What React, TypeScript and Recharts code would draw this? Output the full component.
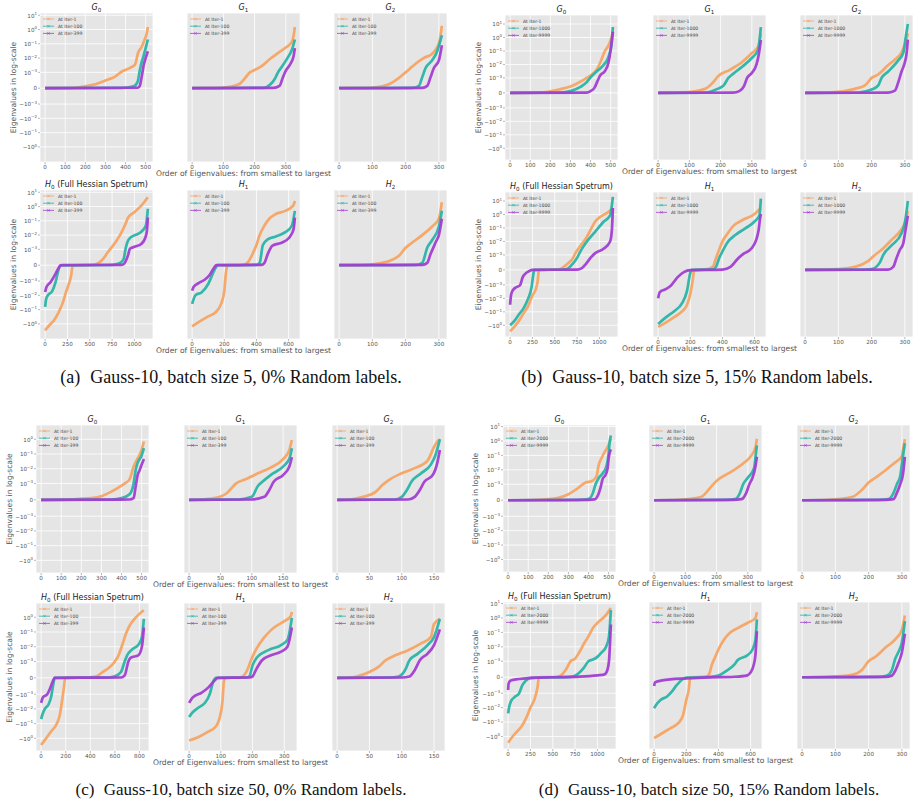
import React from 'react';
import { LineChart, Line, XAxis, YAxis, CartesianGrid, Legend } from 'recharts';

type Pt = [number, number];

// ---------- symlog helpers (matplotlib symlog, linthresh=1e-3, linscale=1) ----------
const LINTHRESH = 1e-3;
const LINSCALE = 1 / (1 - 1 / 10);
const symlog = (v: number) => {
  const a = Math.abs(v);
  const s = v < 0 ? -1 : 1;
  if (a <= LINTHRESH) return (s * a * LINSCALE) / LINTHRESH;
  return s * (LINSCALE + Math.log10(a / LINTHRESH));
};

const Y_TICK_VALUES = [10, 1, 0.1, 0.01, 0.001, 0, -0.001, -0.01, -0.1, -1];

const T_G0 = [0, 100, 200, 300, 400, 500];
const T_300 = [0, 100, 200, 300];
const T_150 = [0, 50, 100, 150];
const T_H0 = [0, 250, 500, 750, 1000];
const T_H0c = [0, 200, 400, 600, 800];
const T_H1 = [0, 200, 400, 600];

const NAMES_A = ['At Iter-1', 'At Iter-100', 'At Iter-399'];
const NAMES_B = ['At Iter-1', 'At Iter-1000', 'At Iter-9999'];
const NAMES_C = ['At Iter-1', 'At Iter-100', 'At Iter-399'];
const NAMES_D = ['At Iter-1', 'At Iter-2000', 'At Iter-9999'];

const COLORS = ['#F5A462', '#2AB4A6', '#A23DD3'];

// ---------- (a) ----------
const a_G0_1: Pt[] = [[0,0],[150,3e-5],[200,1.2e-4],[250,2.5e-4],[300,4.8e-4],[350,7.5e-4],[380,1.1e-3],[420,2e-3],[447,3.5e-3],[463,2.5e-2],[480,6e-2],[495,0.2],[505,0.5],[511,1.5]];
const a_G0_2: Pt[] = [[0,0],[380,2e-5],[440,1.2e-4],[460,4e-4],[470,1.2e-3],[480,5e-3],[490,1.5e-2],[500,5e-2],[511,0.2]];
const a_G0_3: Pt[] = [[0,0],[460,3e-5],[470,1.2e-4],[480,7e-4],[490,3e-3],[500,1e-2],[511,3e-2]];
const a_G1_1: Pt[] = [[0,0],[100,3e-5],[150,2.5e-4],[170,6.5e-4],[185,1e-3],[195,1.3e-3],[220,2.5e-3],[250,9e-3],[280,2.7e-2],[300,5.5e-2],[320,0.14],[326,0.5],[329,1.5]];
const a_G1_2: Pt[] = [[0,0],[230,2e-5],[250,2.3e-4],[265,6e-4],[275,1e-3],[290,3e-3],[305,1e-2],[320,4e-2],[329,0.2]];
const a_G1_3: Pt[] = [[0,0],[260,2e-5],[280,1.5e-4],[290,6.5e-4],[300,1.3e-3],[315,4e-3],[325,1.4e-2],[329,5e-2]];
const a_G2_1: Pt[] = [[0,0],[100,3e-5],[150,2.5e-4],[180,6.5e-4],[200,1e-3],[215,2e-3],[230,4e-3],[254,1e-2],[280,2e-2],[295,6e-2],[302,0.15],[309,1.8]];
const a_G2_2: Pt[] = [[0,0],[220,2e-5],[240,1.5e-4],[250,7e-4],[260,2e-3],[280,7e-3],[295,3e-2],[303,0.12],[309,0.4]];
const a_G2_3: Pt[] = [[0,0],[250,2e-5],[265,1.5e-4],[275,7e-4],[285,2e-3],[300,7e-3],[309,0.08]];
const a_H0_1: Pt[] = [[0,-2.8],[50,-1.2],[100,-0.55],[150,-0.16],[200,-0.03],[230,-7e-3],[260,-2e-3],[290,-7e-4],[310,-1e-5],[550,3e-5],[600,1.4e-4],[650,4e-4],[700,8e-4],[750,1.5e-3],[800,4e-3],[850,1.3e-2],[900,6e-2],[930,0.17],[1000,0.4],[1080,1.2],[1151,4.5]];
const a_H0_2: Pt[] = [[0,-0.065],[10,-0.02],[30,-1e-2],[80,-5e-3],[120,-1e-3],[150,-2.7e-4],[170,-1e-5],[750,2e-5],[800,7e-5],[850,1.8e-4],[880,4e-4],[900,1e-3],[920,3e-3],[960,7e-3],[1050,1.3e-2],[1100,2.4e-2],[1130,5e-2],[1151,0.7]];
const a_H0_3: Pt[] = [[0,-5.9e-3],[15,-2.6e-3],[60,-1.2e-3],[80,-9e-4],[120,-5e-4],[160,-1e-4],[180,0],[850,2e-5],[880,7e-5],[900,2.3e-4],[930,6.5e-4],[950,1.1e-3],[1000,1.5e-3],[1080,2.5e-3],[1120,6e-3],[1140,2e-2],[1151,0.17]];
const a_H1_1: Pt[] = [[0,-1.5],[50,-0.65],[100,-0.3],[150,-0.14],[180,-0.04],[200,-5e-3],[210,-5e-4],[220,0],[320,3e-5],[350,2.3e-4],[380,8e-4],[400,2e-3],[420,1e-2],[450,4.7e-2],[480,0.14],[520,0.3],[580,0.5],[630,1.2],[639,2.5]];
const a_H1_2: Pt[] = [[0,-0.04],[20,-0.01],[60,-6e-3],[100,-1.6e-3],[130,-5e-4],[150,-1e-4],[160,0],[400,2e-5],[420,1.5e-4],[440,2e-3],[470,5e-3],[520,8e-3],[580,1.6e-2],[620,4.5e-2],[639,0.5]];
const a_H1_3: Pt[] = [[0,-4.7e-3],[10,-2.5e-3],[40,-1.4e-3],[80,-9e-4],[110,-6e-4],[140,-1e-4],[150,0],[430,2e-5],[450,1.5e-4],[470,7e-4],[500,1.8e-3],[560,3e-3],[600,6e-3],[630,2.3e-2],[639,0.17]];
const a_H2_1: Pt[] = [[0,0],[80,3e-5],[130,1.5e-4],[180,6e-4],[200,1.3e-3],[220,3e-3],[250,1e-2],[280,4e-2],[300,0.14],[309,2]];
const a_H2_2: Pt[] = [[0,0],[230,2e-5],[250,1.5e-4],[265,1.3e-3],[280,4.5e-3],[300,4e-2],[309,0.5]];
const a_H2_3: Pt[] = [[0,0],[250,2e-5],[265,1.5e-4],[275,7e-4],[290,3e-3],[300,1e-2],[309,0.14]];

// ---------- (b) ----------
const b_G0_1: Pt[] = [[0,0],[150,3e-5],[250,2.5e-4],[300,4.2e-4],[350,7.5e-4],[380,1e-3],[400,1.5e-3],[430,4e-3],[450,1.6e-2],[470,9e-2],[490,0.27],[505,1.1],[511,2.6]];
const b_G0_2: Pt[] = [[0,0],[250,2e-5],[300,1.2e-4],[350,4e-4],[380,7e-4],[400,1.1e-3],[430,3e-3],[460,7.5e-3],[490,4e-2],[505,0.35],[511,6]];
const b_G0_3: Pt[] = [[0,0],[380,2e-5],[400,1.2e-4],[420,3.5e-4],[435,8e-4],[450,1.7e-3],[470,3e-3],[490,1.5e-2],[500,0.12],[511,2.6]];
const b_G1_1: Pt[] = [[0,0],[80,3e-5],[150,2.7e-4],[180,8e-4],[190,1.2e-3],[230,4e-3],[270,1.6e-2],[300,7e-2],[320,0.2],[329,2]];
const b_G1_2: Pt[] = [[0,0],[150,2e-5],[190,2.7e-4],[210,5e-4],[225,1e-3],[240,2e-3],[270,7e-3],[300,3e-2],[320,0.12],[329,6]];
const b_G1_3: Pt[] = [[0,0],[240,2e-5],[260,1.2e-4],[275,4.5e-4],[285,1e-3],[300,2.3e-3],[315,1e-2],[322,5e-2],[329,0.65]];
const b_G2_1: Pt[] = [[0,0],[80,3e-5],[150,2.7e-4],[180,5e-4],[200,1e-3],[220,1.8e-3],[250,9e-3],[270,2.3e-2],[290,8e-2],[300,0.3],[309,2]];
const b_G2_2: Pt[] = [[0,0],[160,2e-5],[200,2.2e-4],[220,5e-4],[230,1e-3],[250,3e-3],[280,2e-2],[295,7e-2],[303,1.2],[309,10]];
const b_G2_3: Pt[] = [[0,0],[250,2e-5],[270,1.5e-4],[280,7e-4],[290,3e-3],[298,1e-2],[305,6e-2],[309,0.7]];
const b_H0_1: Pt[] = [[0,-2.8],[50,-1.2],[100,-0.45],[150,-0.13],[200,-0.04],[250,-6e-3],[290,-1.9e-3],[310,-7e-4],[320,-1e-4],[330,0],[550,3e-5],[600,2e-4],[650,4.5e-4],[700,7.5e-4],[730,1.3e-3],[800,6e-3],[850,1.7e-2],[900,7e-2],[950,0.28],[1000,0.6],[1100,1.5],[1151,3]];
const b_H0_2: Pt[] = [[0,-1.0],[50,-0.45],[100,-0.15],[150,-0.055],[200,-0.011],[240,-1.5e-3],[260,-3e-4],[270,0],[600,2e-5],[650,1e-4],[700,4e-4],[750,8e-4],[780,1.5e-3],[850,8e-3],[950,5e-2],[1050,0.3],[1120,0.85],[1151,20]];
const b_H0_3: Pt[] = [[0,-0.03],[10,-6e-3],[30,-2.5e-3],[70,-1.5e-3],[110,-1.1e-3],[140,-5e-4],[180,-2e-4],[220,-5e-5],[250,0],[750,2e-5],[800,1e-4],[850,4e-4],[900,8e-4],[950,1.3e-3],[1050,3e-3],[1120,1e-2],[1140,7e-2],[1151,3]];
const b_H1_1: Pt[] = [[0,-1.3],[50,-0.6],[100,-0.25],[150,-0.09],[180,-0.03],[200,-4.7e-3],[215,-7e-4],[225,0],[300,3e-5],[340,2e-4],[360,8e-4],[380,2.5e-3],[400,1e-2],[430,3.6e-2],[470,0.15],[520,0.36],[600,1.1],[639,3]];
const b_H1_2: Pt[] = [[0,-0.8],[50,-0.25],[100,-0.09],[150,-0.022],[180,-2.7e-3],[200,-2e-4],[210,0],[340,3e-5],[360,2e-4],[380,8e-4],[400,1.8e-3],[430,8e-3],[480,3e-2],[540,9e-2],[600,0.3],[630,0.85],[639,15]];
const b_H1_3: Pt[] = [[0,-0.01],[10,-3.5e-3],[50,-2e-3],[80,-1.1e-3],[120,-5e-4],[160,-1.5e-4],[200,-2e-5],[400,2e-5],[450,2e-4],[500,8e-4],[530,1.2e-3],[580,3e-3],[610,1.3e-2],[625,7e-2],[635,0.6],[639,1.1]];
const b_H2_1: Pt[] = [[0,0],[80,3e-5],[150,2e-4],[190,6e-4],[210,1e-3],[230,2.4e-3],[260,1.3e-2],[290,8e-2],[300,0.24],[309,1.8]];
const b_H2_2: Pt[] = [[0,0],[180,2e-5],[200,5e-5],[225,5e-4],[235,1e-3],[260,5e-3],[290,4e-2],[300,0.24],[309,10]];
const b_H2_3: Pt[] = [[0,0],[250,2e-5],[265,2e-4],[275,8e-4],[285,2.4e-3],[295,7e-3],[300,3.5e-2],[309,0.8]];

// ---------- (c) ----------
const c_G0_1: Pt[] = [[0,0],[150,3e-5],[250,1e-4],[300,2.2e-4],[350,5e-4],[400,8.6e-4],[420,1.1e-3],[440,1.9e-3],[460,1.4e-2],[480,5e-2],[500,0.19],[511,0.7]];
const c_G0_2: Pt[] = [[0,0],[350,2e-5],[400,1e-4],[440,3.4e-4],[460,1e-3],[470,8e-3],[480,2.5e-2],[500,8e-2],[511,0.25]];
const c_G0_3: Pt[] = [[0,0],[440,2e-5],[460,1e-4],[470,8e-4],[480,3.7e-3],[490,8e-3],[500,1.9e-2],[511,4.5e-2]];
const c_G1_1: Pt[] = [[0,0],[20,2e-5],[40,1e-4],[60,4e-4],[75,1e-3],[90,1.9e-3],[110,4.9e-3],[130,1.2e-2],[150,4.5e-2],[160,0.19],[164,0.9]];
const c_G1_2: Pt[] = [[0,0],[80,2e-5],[100,1.8e-4],[110,8.6e-4],[115,1.1e-3],[130,3.7e-3],[150,1.4e-2],[160,4.7e-2],[164,0.25]];
const c_G1_3: Pt[] = [[0,0],[100,2e-5],[120,1.8e-4],[128,6e-4],[135,1.3e-3],[150,3.7e-3],[160,1.4e-2],[164,6e-2]];
const c_G2_1: Pt[] = [[0,0],[20,2e-5],[40,1.8e-4],[60,5e-4],[70,9e-4],[80,1.7e-3],[100,4.9e-3],[120,1.1e-2],[140,3.6e-2],[150,0.3],[155,0.7],[159,1.0]];
const c_G2_2: Pt[] = [[0,0],[90,2e-5],[100,1.8e-4],[108,6e-4],[115,1.3e-3],[130,4.9e-3],[145,1.9e-2],[152,8e-2],[159,1.0]];
const c_G2_3: Pt[] = [[0,0],[110,2e-5],[120,1.8e-4],[128,6e-4],[135,1.3e-3],[148,3.7e-3],[155,2.5e-2],[159,0.19]];
const c_H0_1: Pt[] = [[0,-2.8],[40,-1.0],[80,-0.35],[120,-0.13],[150,-0.03],[170,-3e-3],[185,-6e-4],[195,0],[400,3e-5],[450,9e-5],[500,3.5e-4],[550,6e-4],[600,1e-3],[630,2.6e-3],[660,1.3e-2],[690,7.6e-2],[720,0.27],[760,0.77],[800,1.7],[836,3]];
const c_H0_2: Pt[] = [[0,-0.05],[10,-0.025],[30,-1e-2],[60,-5e-3],[80,-1.7e-3],[100,-3.4e-4],[110,0],[550,2e-5],[600,9e-5],[650,3.6e-4],[680,1e-3],[700,2.6e-3],[740,6.5e-3],[790,1.3e-2],[820,4.5e-2],[836,0.77]];
const c_H0_3: Pt[] = [[0,-3.9e-3],[15,-1.6e-3],[50,-1e-3],[70,-7e-4],[100,-1.2e-4],[110,0],[650,2e-5],[680,1.5e-4],[710,1e-3],[730,1.8e-3],[790,2.6e-3],[820,1e-2],[836,0.2]];
const c_H1_1: Pt[] = [[0,-1.4],[30,-0.8],[60,-0.35],[85,-0.15],[95,-0.05],[105,-3.3e-3],[110,-1.7e-4],[115,0],[160,3e-5],[170,9e-5],[185,5.5e-4],[195,1.2e-3],[210,5.9e-3],[235,3.8e-2],[260,0.145],[300,0.55],[320,1.1],[324,2.3]];
const c_H1_2: Pt[] = [[0,-0.035],[10,-0.018],[30,-8e-3],[50,-3.8e-3],[65,-1e-3],[75,-2.8e-4],[85,0],[180,2e-5],[190,9e-5],[200,7.6e-4],[215,2e-3],[250,5.9e-3],[290,1.3e-2],[310,2.9e-2],[324,0.9]];
const c_H1_3: Pt[] = [[0,-3.9e-3],[10,-1.8e-3],[40,-9e-4],[60,-6e-4],[80,-1.7e-4],[90,0],[190,2e-5],[200,8e-5],[210,4.6e-4],[230,1.2e-3],[260,2.7e-3],[290,4.6e-3],[310,1e-2],[324,0.2]];
const c_H2_1: Pt[] = [[0,0],[20,2e-5],[30,8e-5],[50,3.5e-4],[65,7e-4],[75,1.2e-3],[90,2.6e-3],[110,5.8e-3],[130,1.7e-2],[145,4.5e-2],[150,0.35],[159,0.77]];
const c_H2_2: Pt[] = [[0,0],[80,2e-5],[95,8e-5],[105,4.6e-4],[112,1.2e-3],[125,3.4e-3],[140,1.3e-2],[150,4.5e-2],[159,0.77]];
const c_H2_3: Pt[] = [[0,0],[100,2e-5],[112,8e-5],[120,4.6e-4],[128,1.2e-3],[140,3.4e-3],[150,1.3e-2],[159,0.15]];

// ---------- (d) ----------
const d_G0_1: Pt[] = [[0,0],[150,3e-5],[250,1.5e-4],[300,3.7e-4],[350,7.8e-4],[380,1.2e-3],[420,1.8e-3],[440,3.6e-3],[450,2e-2],[465,6.6e-2],[490,0.3],[505,0.8],[511,1.4]];
const d_G0_2: Pt[] = [[0,0],[350,2e-5],[400,7e-5],[420,4e-4],[435,1e-3],[450,2.6e-3],[470,5.5e-3],[490,2e-2],[500,0.14],[505,0.8],[511,2.4]];
const d_G0_3: Pt[] = [[0,0],[400,2e-5],[430,5e-5],[450,4e-4],[460,8e-4],[470,2.3e-3],[485,4.5e-3],[495,1.3e-2],[500,6.6e-2],[511,0.26]];
const d_G1_1: Pt[] = [[0,0],[80,3e-5],[150,2e-4],[170,5.5e-4],[185,9e-4],[200,1.7e-3],[250,8e-3],[290,3.3e-2],[310,9e-2],[325,0.4],[329,1.4]];
const d_G1_2: Pt[] = [[0,0],[230,2e-5],[260,7e-5],[275,4.6e-4],[285,1e-3],[300,2.8e-3],[320,1.3e-2],[326,0.14],[329,0.5]];
const d_G1_3: Pt[] = [[0,0],[250,2e-5],[280,7e-5],[295,4.6e-4],[305,1e-3],[315,2.8e-3],[325,2e-2],[329,8e-2]];
const d_G2_1: Pt[] = [[0,0],[80,3e-5],[150,2e-4],[180,6.5e-4],[200,1.3e-3],[220,2.8e-3],[250,9e-3],[280,3.3e-2],[300,9e-2],[305,0.4],[309,1.3]];
const d_G2_2: Pt[] = [[0,0],[230,2e-5],[260,7e-5],[275,4.6e-4],[285,1e-3],[295,3.6e-3],[300,2.5e-2],[309,0.7]];
const d_G2_3: Pt[] = [[0,0],[250,2e-5],[275,7e-5],[285,4.6e-4],[295,1e-3],[303,4.5e-3],[309,8e-2]];
const d_H0_1: Pt[] = [[0,-2.7],[50,-1],[100,-0.45],[150,-0.2],[200,-0.055],[250,-1e-2],[300,-2.2e-3],[330,-6e-4],[345,0],[550,3e-5],[600,1.5e-4],[650,5e-4],[700,1e-3],[750,1.5e-3],[800,4.5e-3],[850,1.7e-2],[900,5.3e-2],[950,0.2],[1000,0.45],[1100,1.7],[1151,5]];
const d_H0_2: Pt[] = [[0,-0.025],[10,-1e-2],[30,-3.8e-3],[80,-1.7e-3],[120,-1.1e-3],[160,-5e-4],[200,-2e-4],[250,-5e-5],[700,2e-5],[750,1e-4],[800,3e-4],[850,6e-4],[900,1e-3],[950,1.3e-3],[1000,2e-3],[1050,4.2e-3],[1100,1.1e-2],[1130,5.3e-2],[1151,3.5]];
const d_H0_3: Pt[] = [[0,-8e-4],[5,-4e-4],[30,-2e-4],[200,-7e-5],[300,-3e-5],[500,0],[800,4e-5],[1000,1.2e-4],[1080,1.8e-4],[1110,4.2e-4],[1130,1e-3],[1140,1.1e-2],[1151,0.35]];
const d_H1_1: Pt[] = [[0,-1.3],[50,-0.6],[100,-0.27],[150,-0.12],[180,-0.033],[200,-2.9e-3],[215,-8e-4],[225,0],[320,3e-5],[340,1.5e-4],[360,8e-4],[380,2e-3],[400,6.5e-3],[430,2.6e-2],[470,9e-2],[520,0.2],[580,0.45],[630,1],[639,2.5]];
const d_H1_2: Pt[] = [[0,-1.1e-2],[10,-7e-3],[40,-2.9e-3],[80,-1.7e-3],[110,-9e-4],[140,-5e-4],[180,-1e-4],[200,-2e-5],[350,2e-5],[400,1e-4],[450,4e-4],[500,8e-4],[520,1.2e-3],[580,2.6e-3],[610,6e-3],[630,3e-2],[639,0.8]];
const d_H1_3: Pt[] = [[0,-5.5e-4],[5,-3.2e-4],[50,-2e-4],[200,-7e-5],[300,-2e-5],[500,3e-5],[580,1.2e-4],[600,3e-4],[620,8e-4],[630,2.6e-3],[639,0.12]];
const d_H2_1: Pt[] = [[0,0],[80,3e-5],[150,1.5e-4],[180,4.5e-4],[200,1e-3],[220,2e-3],[250,8.5e-3],[280,3.3e-2],[300,0.15],[309,1.5]];
const d_H2_2: Pt[] = [[0,0],[230,2e-5],[255,1e-4],[270,4.5e-4],[280,1.5e-3],[290,4.5e-3],[300,2e-2],[309,0.6]];
const d_H2_3: Pt[] = [[0,0],[250,2e-5],[270,1e-4],[280,4e-4],[290,9e-4],[300,4e-3],[309,8e-2]];

// ---------- layout ----------
const FONT = 'DejaVu Sans, sans-serif';
const GRAY = '#555555';
const PAD = 6;

interface PanelDef { kind: 'G' | 'H'; idx: number; series: Pt[][]; xMax: number; xTicks: number[] }
interface SubDef {
  cols: number[]; w: number; rows: number[]; h: number; yDomain: [number, number];
  names: string[]; ylabelX: number; capLabel: string; caption: string; capX: number; capY: number; capSize: number;
  panels: PanelDef[];
}

const SUBS: SubDef[] = [
  {
    cols: [40, 187, 334], w: 113, rows: [13, 190], h: 149, yDomain: [-5.17, 5.27], names: NAMES_A, ylabelX: 13,
    capLabel: '(a)', caption: 'Gauss-10, batch size 5, 0% Random labels.', capX: 231, capY: 383, capSize: 18,
    panels: [
      { kind: 'G', idx: 0, series: [a_G0_1, a_G0_2, a_G0_3], xMax: 511, xTicks: T_G0 },
      { kind: 'G', idx: 1, series: [a_G1_1, a_G1_2, a_G1_3], xMax: 329, xTicks: T_300 },
      { kind: 'G', idx: 2, series: [a_G2_1, a_G2_2, a_G2_3], xMax: 309, xTicks: T_300 },
      { kind: 'H', idx: 0, series: [a_H0_1, a_H0_2, a_H0_3], xMax: 1151, xTicks: T_H0 },
      { kind: 'H', idx: 1, series: [a_H1_1, a_H1_2, a_H1_3], xMax: 639, xTicks: T_H1 },
      { kind: 'H', idx: 2, series: [a_H2_1, a_H2_2, a_H2_3], xMax: 309, xTicks: T_300 },
    ],
  },
  {
    cols: [505, 653, 800], w: 113, rows: [15, 192], h: 145, yDomain: [-4.98, 5.78], names: NAMES_B, ylabelX: 478,
    capLabel: '(b)', caption: 'Gauss-10, batch size 5, 15% Random labels.', capX: 697, capY: 383, capSize: 18,
    panels: [
      { kind: 'G', idx: 0, series: [b_G0_1, b_G0_2, b_G0_3], xMax: 511, xTicks: T_G0 },
      { kind: 'G', idx: 1, series: [b_G1_1, b_G1_2, b_G1_3], xMax: 329, xTicks: T_300 },
      { kind: 'G', idx: 2, series: [b_G2_1, b_G2_2, b_G2_3], xMax: 309, xTicks: T_300 },
      { kind: 'H', idx: 0, series: [b_H0_1, b_H0_2, b_H0_3], xMax: 1151, xTicks: T_H0 },
      { kind: 'H', idx: 1, series: [b_H1_1, b_H1_2, b_H1_3], xMax: 639, xTicks: T_H1 },
      { kind: 'H', idx: 2, series: [b_H2_1, b_H2_2, b_H2_3], xMax: 309, xTicks: T_300 },
    ],
  },
  {
    cols: [36, 184, 332], w: 113, rows: [425, 603], h: 148, yDomain: [-4.97, 5.08], names: NAMES_C, ylabelX: 9,
    capLabel: '(c)', caption: 'Gauss-10, batch size 50, 0% Random labels.', capX: 241, capY: 795, capSize: 17,
    panels: [
      { kind: 'G', idx: 0, series: [c_G0_1, c_G0_2, c_G0_3], xMax: 511, xTicks: T_G0 },
      { kind: 'G', idx: 1, series: [c_G1_1, c_G1_2, c_G1_3], xMax: 164, xTicks: T_150 },
      { kind: 'G', idx: 2, series: [c_G2_1, c_G2_2, c_G2_3], xMax: 159, xTicks: T_150 },
      { kind: 'H', idx: 0, series: [c_H0_1, c_H0_2, c_H0_3], xMax: 836, xTicks: T_H0c },
      { kind: 'H', idx: 1, series: [c_H1_1, c_H1_2, c_H1_3], xMax: 324, xTicks: T_300 },
      { kind: 'H', idx: 2, series: [c_H2_1, c_H2_2, c_H2_3], xMax: 159, xTicks: T_150 },
    ],
  },
  {
    cols: [503, 649, 797], w: 113, rows: [425, 602], h: 147, yDomain: [-4.98, 5.22], names: NAMES_D, ylabelX: 475,
    capLabel: '(d)', caption: 'Gauss-10, batch size 50, 15% Random labels.', capX: 709, capY: 795, capSize: 17,
    panels: [
      { kind: 'G', idx: 0, series: [d_G0_1, d_G0_2, d_G0_3], xMax: 511, xTicks: T_G0 },
      { kind: 'G', idx: 1, series: [d_G1_1, d_G1_2, d_G1_3], xMax: 329, xTicks: T_300 },
      { kind: 'G', idx: 2, series: [d_G2_1, d_G2_2, d_G2_3], xMax: 309, xTicks: T_300 },
      { kind: 'H', idx: 0, series: [d_H0_1, d_H0_2, d_H0_3], xMax: 1151, xTicks: T_H0 },
      { kind: 'H', idx: 1, series: [d_H1_1, d_H1_2, d_H1_3], xMax: 639, xTicks: T_H1 },
      { kind: 'H', idx: 2, series: [d_H2_1, d_H2_2, d_H2_3], xMax: 309, xTicks: T_300 },
    ],
  },
];

const YTick = (props: any) => {
  const { x, y, payload } = props;
  const pos = payload.value as number;
  const v = Y_TICK_VALUES.find((t) => Math.abs(symlog(t) - pos) < 1e-6);
  if (v === undefined) return null;
  if (v === 0) {
    return <text x={x} y={y} dy={2} textAnchor="end" fontSize={5.6} fill={GRAY} fontFamily={FONT}>0</text>;
  }
  const e = Math.round(Math.log10(Math.abs(v)));
  const sign = v < 0 ? '\u2212' : '';
  const es = e < 0 ? '\u2212' + String(-e) : String(e);
  return (
    <text x={x} y={y} dy={2.4} textAnchor="end" fontSize={5.6} fill={GRAY} fontFamily={FONT}>
      <tspan>{sign + '10'}</tspan>
      <tspan dy={-2.6} fontSize={4}>{es}</tspan>
    </text>
  );
};

const legendFor = (names: string[]) => () => (
  <svg width={64} height={24} style={{ display: 'block' }}>
    {names.map((n, i) => (
      <g key={n} transform={`translate(0, ${i * 7.2 + 4})`}>
        <line x1={0} x2={11} y1={0} y2={0} stroke={COLORS[i]} strokeWidth={0.8} />
        <path d="M4.3,-1.2 L6.7,1.2 M4.3,1.2 L6.7,-1.2" stroke={COLORS[i]} strokeWidth={0.7} />
        <text x={15} y={1.6} fontSize={4.6} fill="#444" fontFamily={FONT}>{n}</text>
      </g>
    ))}
  </svg>
);

function Panel({ sub, p, col, row }: { sub: SubDef; p: PanelDef; col: number; row: number }) {
  const first = col === 0;
  const YW = first ? 38 : 4;
  const XH = 12;
  const left = sub.cols[col];
  const top = sub.rows[row];
  const yTicks = Y_TICK_VALUES.map(symlog).filter((t) => t >= sub.yDomain[0] && t <= sub.yDomain[1]);
  const W = YW + sub.w;
  const H = sub.h + XH + PAD;
  return (
    <div style={{ position: 'absolute', left: left - YW, top: top - PAD, width: W, height: H }}>
      <LineChart width={W} height={H} margin={{ top: PAD, right: 0, bottom: 0, left: 0 }}>
        <CartesianGrid fill="#E5E5E5" stroke="#FFFFFF" strokeWidth={0.8} />
        <XAxis
          type="number"
          dataKey={(d: Pt) => d[0]}
          domain={[-0.05 * p.xMax, 1.05 * p.xMax]}
          ticks={p.xTicks}
          allowDataOverflow
          height={XH}
          axisLine={false}
          tickLine={{ stroke: '#888', strokeWidth: 0.6 }}
          tickSize={2}
          tickMargin={1}
          tick={{ fontSize: 5.6, fill: GRAY, fontFamily: FONT }}
          interval={0}
        />
        <YAxis
          type="number"
          domain={sub.yDomain}
          ticks={yTicks}
          allowDataOverflow
          width={YW}
          axisLine={false}
          tickLine={{ stroke: '#888', strokeWidth: 0.6 }}
          tickSize={2}
          tickMargin={1}
          tick={first ? <YTick /> : false}
          interval={0}
        />
        <Legend
          verticalAlign="middle"
          align="center"
          layout="vertical"
          wrapperStyle={{ left: YW + 3, top: PAD + 2, width: 64, height: 24 }}
          content={legendFor(sub.names)}
        />
        {p.series.map((s, i) => (
          <Line
            key={i}
            data={s}
            name={sub.names[i]}
            dataKey={(d: Pt) => symlog(d[1])}
            type="monotone"
            stroke={COLORS[i]}
            strokeWidth={2.7}
            strokeOpacity={0.95}
            dot={false}
            activeDot={false}
            isAnimationActive={false}
          />
        ))}
      </LineChart>
    </div>
  );
}

function TextLayer() {
  const els: React.ReactNode[] = [];
  SUBS.forEach((sub, si) => {
    sub.panels.forEach((p, pi) => {
      const col = pi % 3;
      const row = Math.floor(pi / 3);
      const cx = sub.cols[col] + sub.w / 2;
      const ty = sub.rows[row] - 3;
      els.push(
        <text key={`t${si}-${pi}`} x={cx} y={ty} textAnchor="middle" fontSize={8} fill="#222" fontFamily={FONT}>
          <tspan fontStyle="italic">{p.kind}</tspan>
          <tspan fontSize={5.6} dy={1.6}>{String(p.idx)}</tspan>
          {p.kind === 'H' && p.idx === 0 ? <tspan dy={-1.6}>{' (Full Hessian Spetrum)'}</tspan> : null}
        </text>
      );
    });
    [0, 1].forEach((row) => {
      const cy = sub.rows[row] + sub.h / 2;
      els.push(
        <text key={`yl${si}-${row}`} transform={`translate(${sub.ylabelX},${cy}) rotate(-90)`} textAnchor="middle"
          dominantBaseline="central" fontSize={7.6} fill={GRAY} fontFamily={FONT}>
          Eigenvalues in log-scale
        </text>
      );
      const mx = sub.cols[1] + sub.w / 2;
      const my = sub.rows[row] + sub.h + 14;
      els.push(
        <text key={`xl${si}-${row}`} x={mx} y={my} textAnchor="middle" fontSize={7.6} fill={GRAY} fontFamily={FONT}>
          Order of Eigenvalues: from smallest to largest
        </text>
      );
    });
    els.push(
      <text key={`cap${si}`} x={sub.capX} y={sub.capY} textAnchor="middle" fontSize={sub.capSize} fill="#111"
        fontFamily="Liberation Serif, Times New Roman, serif">
        <tspan>{sub.capLabel}</tspan>
        <tspan dx={sub.capSize * 0.55}>{sub.caption}</tspan>
      </text>
    );
  });
  return (
    <svg width={920} height={803} style={{ position: 'absolute', left: 0, top: 0, pointerEvents: 'none' }}>
      {els}
    </svg>
  );
}

export default function App() {
  return (
    <div style={{ position: 'absolute', left: 0, top: 0, width: 920, height: 803, background: '#FFFFFF', overflow: 'hidden' }}>
      {SUBS.map((sub, si) =>
        sub.panels.map((p, pi) => (
          <Panel key={`${si}-${pi}`} sub={sub} p={p} col={pi % 3} row={Math.floor(pi / 3)} />
        ))
      )}
      <TextLayer />
    </div>
  );
}
